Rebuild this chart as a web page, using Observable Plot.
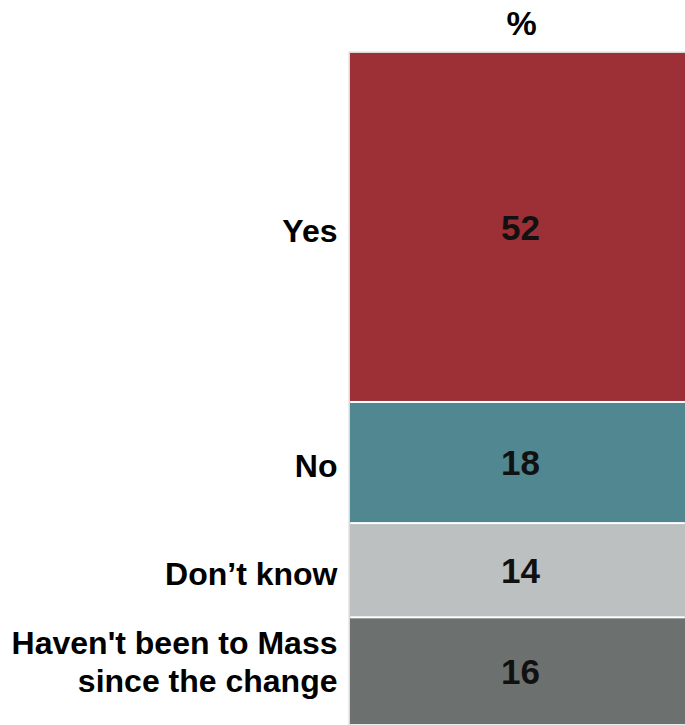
<!DOCTYPE html>
<html>
<head>
<meta charset="utf-8">
<script src="https://cdn.jsdelivr.net/npm/d3@7"></script>
<script src="https://cdn.jsdelivr.net/npm/@observablehq/plot@0.6"></script>
<style>
  html, body { margin: 0; padding: 0; background: #fff; }
  #chart svg { display: block; }
</style>
</head>
<body>
<div id="chart"></div>
<script>
const categories = ["Yes", "No", "Don\u2019t know", "Haven't been to Mass\nsince the change"];
const values = [52, 18, 14, 16];
const colors = ["#9d2f36", "#508791", "#bdc0c0", "#6c7170"];
const columnLabel = "%";

const data = categories.map((c, i) => ({category: c, value: values[i], col: columnLabel}));

const font = "Liberation Sans, Arial, Helvetica, sans-serif";
const labelOpts = {x: "col", y: "value", textAnchor: "end", dx: -180, fontSize: 32, fontWeight: "bold", lineHeight: 1.19, fill: "#000"};
const isMulti = d => d.category.includes("\n");

const chart = Plot.plot({
  width: 685,
  height: 725,
  marginLeft: 349,
  marginRight: 0,
  marginTop: 52,
  marginBottom: 0,
  style: {fontFamily: font, background: "#fff"},
  x: {type: "band", domain: [columnLabel], padding: 0, axis: null},
  y: {domain: [0, 100], reverse: true, axis: null},
  color: {domain: categories, range: colors},
  marks: [
    Plot.frame({stroke: "#d9d9d9", strokeWidth: 2}),
    Plot.barY(data, Plot.stackY({x: "col", y: "value", fill: "category", insetTop: 1, insetBottom: 1, insetLeft: 1})),
    Plot.axisX({anchor: "top", tickSize: 0, tickPadding: 18, dx: 4, fontSize: 34, fontWeight: "bold", label: null, fill: "#000"}),
    Plot.text(data, Plot.stackY({x: "col", y: "value", text: d => String(d.value), dx: 3, dy: 1, fontSize: 35, fontWeight: "bold", fill: "#111"})),
    Plot.text(data, Plot.stackY({...labelOpts, dy: 2, text: d => isMulti(d) ? null : d.category})),
    Plot.text(data, Plot.stackY({...labelOpts, dy: -11, text: d => isMulti(d) ? d.category : null}))
  ]
});
document.getElementById("chart").appendChild(chart);
</script>
</body>
</html>
